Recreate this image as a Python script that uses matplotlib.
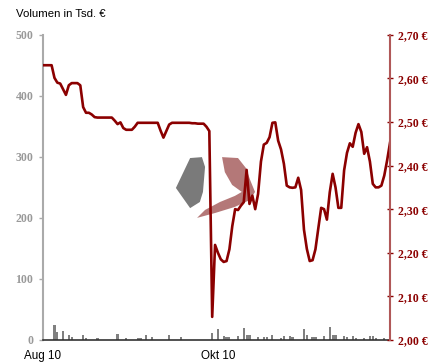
import pandas as pd
import matplotlib
matplotlib.use("Agg")
import matplotlib.pyplot as plt
from matplotlib.patches import Polygon
from matplotlib.ticker import FuncFormatter

# --- Daten (Tageswerte 01.08.2010 - 30.11.2010) ---
start_datum = "2010-08-01"
end_datum = "2010-11-30"

kurs = [
    2.630, 2.630, 2.630, 2.630, 2.601, 2.590, 2.588, 2.575, 2.562, 2.584,
    2.589, 2.589, 2.589, 2.584, 2.534, 2.521, 2.521, 2.517, 2.511, 2.510,
    2.510, 2.510, 2.510, 2.510, 2.510, 2.503, 2.495, 2.499, 2.486, 2.482,
    2.482, 2.482, 2.489, 2.498, 2.498, 2.498, 2.498, 2.498, 2.498, 2.498,
    2.498, 2.480, 2.464, 2.479, 2.494, 2.498, 2.498, 2.498, 2.498, 2.498,
    2.498, 2.498, 2.497, 2.497, 2.496, 2.496, 2.496, 2.489, 2.479, 2.053,
    2.218, 2.200, 2.185, 2.179, 2.181, 2.208, 2.261, 2.300, 2.298, 2.308,
    2.316, 2.390, 2.312, 2.331, 2.300, 2.335, 2.409, 2.448, 2.452, 2.465,
    2.498, 2.499, 2.457, 2.437, 2.404, 2.354, 2.350, 2.349, 2.350, 2.372,
    2.344, 2.253, 2.209, 2.181, 2.183, 2.208, 2.256, 2.303, 2.300, 2.276,
    2.339, 2.381, 2.350, 2.303, 2.303, 2.389, 2.429, 2.451, 2.443, 2.475,
    2.495, 2.477, 2.427, 2.442, 2.409, 2.358, 2.350, 2.350, 2.354, 2.377,
    2.412, 2.452,
]

volumen = [
    9, 0, 0, 0, 24, 13, 0, 14, 0, 8,
    5, 0, 0, 0, 8, 3, 0, 0, 0, 3,
    0, 0, 0, 0, 0, 0, 10, 0, 0, 3,
    0, 0, 0, 3, 3, 0, 8, 0, 5, 0,
    0, 0, 0, 0, 9, 0, 0, 0, 5, 0,
    0, 0, 0, 0, 0, 0, 0, 0, 0, 11,
    0, 18, 0, 6, 5, 5, 0, 0, 6, 0,
    20, 9, 8, 0, 0, 5, 0, 5, 5, 0,
    8, 0, 0, 4, 6, 0, 6, 5, 0, 0,
    0, 18, 9, 0, 5, 5, 0, 0, 6, 0,
    22, 9, 8, 0, 0, 6, 5, 0, 6, 3,
    0, 0, 3, 0, 6, 6, 3, 0, 0, 3,
    0, 0,
]

x_ticks = ["2010-08-01", "2010-10-01"]
x_labels = ["Aug 10", "Okt 10"]
vol_ticks = [0, 100, 200, 300, 400, 500]
kurs_ticks = [2.00, 2.10, 2.20, 2.30, 2.40, 2.50, 2.60, 2.70]

datum = pd.date_range(start_datum, end_datum, freq="D")

rot = "#8b0000"
grau = "#808080"

fig = plt.figure(figsize=(4.33, 3.63), dpi=100)
ax = fig.add_axes([43 / 433, 23 / 363, 347 / 433, 305.3 / 363])
ax2 = ax.twinx()

# Logo im Hintergrund (Wasserzeichen)
logo_grau = [(0.383, 0.498), (0.424, 0.596), (0.458, 0.599), (0.467, 0.567),
             (0.461, 0.485), (0.452, 0.452), (0.424, 0.432)]
logo_rot = [(0.516, 0.599), (0.562, 0.596), (0.585, 0.563), (0.597, 0.524),
            (0.611, 0.485), (0.597, 0.459), (0.553, 0.436), (0.496, 0.416),
            (0.444, 0.400), (0.467, 0.426), (0.510, 0.452), (0.553, 0.472),
            (0.573, 0.485), (0.545, 0.508), (0.524, 0.550)]
ax.add_patch(Polygon(logo_grau, closed=True, transform=ax.transAxes,
                     facecolor="#7a7a7a", edgecolor="none", zorder=0))
ax.add_patch(Polygon(logo_rot, closed=True, transform=ax.transAxes,
                     facecolor="#b47878", edgecolor="none", zorder=0))

# Volumen (Balken)
ax.bar(datum, volumen, width=0.75, color=grau, zorder=2)
ax.set_ylim(0, 500)
ax.set_yticks(vol_ticks)
ax.set_xlim(datum[0], datum[-1])
ax.set_xticks(pd.to_datetime(x_ticks))
ax.set_xticklabels(x_labels, fontsize=8.4, family="Liberation Sans")
ax.tick_params(axis="x", length=0, pad=7)
ax.tick_params(axis="y", direction="out", length=3, width=1,
               color="#aaaaaa", pad=4, labelcolor="#999999")
for lbl in ax.get_yticklabels():
    lbl.set_family("Liberation Serif")
    lbl.set_fontweight("bold")
    lbl.set_fontsize(8.5)

# Kurs (Linie)
ax2.plot(datum, kurs, color=rot, linewidth=1.9, solid_joinstyle="round")
ax2.set_ylim(2.00, 2.70)
ax2.set_yticks(kurs_ticks)
ax2.yaxis.set_major_formatter(FuncFormatter(lambda v, p: f"{v:.2f} €".replace(".", ",")))
ax2.tick_params(axis="y", direction="inout", length=5, width=1,
                color=rot, pad=3, labelcolor=rot)
for lbl in ax2.get_yticklabels():
    lbl.set_family("Liberation Serif")
    lbl.set_fontweight("bold")
    lbl.set_fontsize(8.5)

for a in (ax, ax2):
    a.spines["top"].set_visible(False)
    a.patch.set_visible(False)
ax.spines["right"].set_visible(False)
ax2.spines["left"].set_visible(False)
ax2.spines["bottom"].set_visible(False)
ax.spines["left"].set_color("#aaaaaa")
ax.spines["left"].set_linewidth(1.5)
ax.spines["bottom"].set_color("#333333")
ax.spines["bottom"].set_linewidth(1.2)
ax2.spines["right"].set_color("#b05858")
ax2.spines["right"].set_linewidth(1.5)

fig.text(16 / 433, 1 - 14 / 363, "Volumen in Tsd. €", fontsize=8.2,
         family="Liberation Sans", va="center", ha="left")

fig.savefig("out.png", dpi=100)
